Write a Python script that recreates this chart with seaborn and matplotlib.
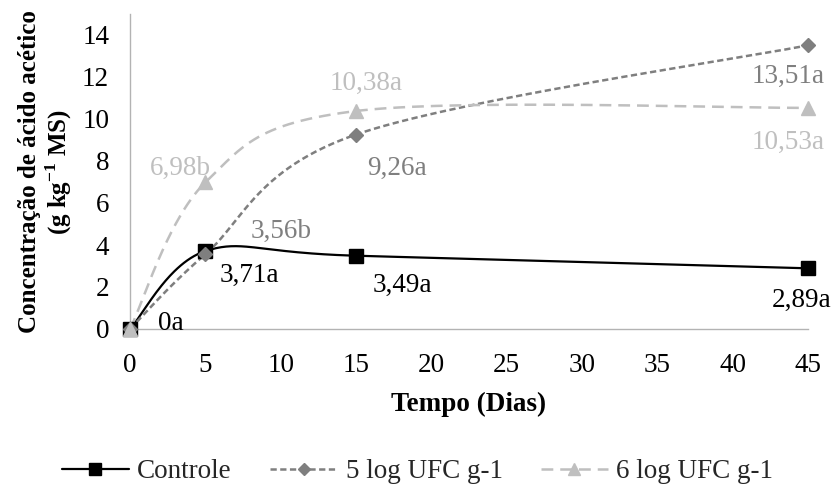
import numpy as np
import matplotlib
matplotlib.use("Agg")
import matplotlib.pyplot as plt
from matplotlib.lines import Line2D
import seaborn as sns

# ---- data ----
days = [0, 5, 15, 45]
controle = [0.0, 3.71, 3.49, 2.89]
log5 = [0.0, 3.56, 9.26, 13.51]
log6 = [0.0, 6.98, 10.38, 10.53]
labels_controle = ["0a", "3,71a", "3,49a", "2,89a"]
labels_log5 = ["", "3,56b", "9,26a", "13,51a"]
labels_log6 = ["", "6,98b", "10,38a", "10,53a"]
series_names = ["Controle", "5 log UFC g-1", "6 log UFC g-1"]
x_ticks = [0, 5, 10, 15, 20, 25, 30, 35, 40, 45]
y_ticks = [0, 2, 4, 6, 8, 10, 12, 14]

sns.set_theme(style="white")
plt.rcParams["font.family"] = ["Liberation Serif", "DejaVu Serif"]
plt.rcParams["mathtext.fontset"] = "custom"
plt.rcParams["mathtext.rm"] = "Liberation Serif"
plt.rcParams["mathtext.bf"] = "Liberation Serif:bold"
plt.rcParams["lines.scale_dashes"] = False

FS = 19.5


def smooth(x, y, n=60):
    """Excel-like smoothed line: cubic Bezier with Catmull-Rom (1/6) control points."""
    x = np.asarray(x, float)
    y = np.asarray(y, float)
    pts = np.column_stack([x, y])
    out = []
    m = len(pts)
    for i in range(m - 1):
        p0 = pts[i - 1] if i > 0 else pts[i]
        p1 = pts[i]
        p2 = pts[i + 1]
        p3 = pts[i + 2] if i + 2 < m else pts[i + 1]
        c1 = p1 + (p2 - p0) / 6.0
        c2 = p2 - (p3 - p1) / 6.0
        t = np.linspace(0, 1, n)[:, None]
        seg = ((1 - t) ** 3) * p1 + 3 * ((1 - t) ** 2) * t * c1 + 3 * (1 - t) * t ** 2 * c2 + t ** 3 * p2
        out.append(seg if i == 0 else seg[1:])
    s = np.vstack(out)
    return s[:, 0], s[:, 1]


fig = plt.figure(figsize=(8.35, 4.88), dpi=100)
ax = fig.add_axes([130 / 835, 1 - 329 / 488, 678 / 835, 315 / 488])

styles = [
    dict(color="#000000", ls="-", marker="s", ms=10.5, lw=1.6, mec="#000000"),
    dict(color="#7f7f7f", ls=(0, (4.5, 2.5)), marker="D", ms=7.5, lw=1.8, mec="#7f7f7f"),
    dict(color="#bfbfbf", ls=(0, (8.5, 5.0)), marker="^", ms=10.5, lw=1.8, mec="#bfbfbf"),
]
all_y = [controle, log5, log6]

for yv, st in zip(all_y, styles):
    sx, sy = smooth(days, yv)
    sns.lineplot(x=sx, y=sy, sort=False, estimator=None, ax=ax,
                 color=st["color"], linewidth=st["lw"], linestyle=st["ls"])
for yv, st in zip(all_y, styles):
    ax.plot(days, yv, linestyle="none", marker=st["marker"], markersize=st["ms"],
            color=st["color"], mec=st["mec"], zorder=5, clip_on=False)

# data labels (offsets in pixels)
offs_c = [(41, 8), (44, -21), (46, -27), (-6, -29)]
offs_5 = [None, (76, 26), (41, -31), (-20, -28)]
offs_6 = [None, (-25, 17), (10, 31), (-20, -32)]
for yv, labs, offs, st in [(controle, labels_controle, offs_c, styles[0]),
                           (log5, labels_log5, offs_5, styles[1]),
                           (log6, labels_log6, offs_6, styles[2])]:
    for xi, yi, lab, off in zip(days, yv, labs, offs):
        if not lab:
            continue
        ax.annotate(lab, (xi, yi), xytext=off, textcoords="offset pixels",
                    ha="center", va="center_baseline", fontsize=FS, color=st["color"],
                    zorder=6, annotation_clip=False)

ax.set_xlim(0, 45)
ax.set_ylim(0, 15)
ax.set_xticks(x_ticks)
ax.set_yticks(y_ticks)
ax.set_xticklabels([str(v) for v in x_ticks])
ax.set_yticklabels([str(v) for v in y_ticks])

sns.despine(ax=ax)
for sp in ["left", "bottom"]:
    ax.spines[sp].set_color("#b3b3b3")
    ax.spines[sp].set_linewidth(1.0)
ax.tick_params(axis="both", direction="out", length=6, width=1.0, color="#b3b3b3",
               labelsize=FS, labelcolor="#000000")
ax.tick_params(axis="y", pad=9)
ax.tick_params(axis="x", pad=11)

ax.set_xlabel("Tempo (Dias)", fontsize=FS, fontweight="bold", color="#000000")
ax.xaxis.set_label_coords(0.5, -0.2)
ax.set_ylabel("Concentração de ácido acético\n(g kg$^{\\mathbf{-1}}$ MS)", fontsize=18,
              fontweight="bold", color="#000000", linespacing=1.1)
ax.yaxis.set_label_coords(-0.083, 0.5)

handles = [Line2D([], [], color=st["color"], ls=st["ls"], lw=st["lw"], marker=st["marker"],
                  ms=st["ms"] * 0.85, mec=st["mec"]) for st in styles]
fig.legend(handles, series_names, loc="center", bbox_to_anchor=(0.5, 1 - 472 / 488),
           ncol=3, frameon=False, fontsize=FS, handlelength=2.5, handletextpad=0.3,
           columnspacing=1.4, borderpad=0)

fig.savefig("out.png", dpi=100)
